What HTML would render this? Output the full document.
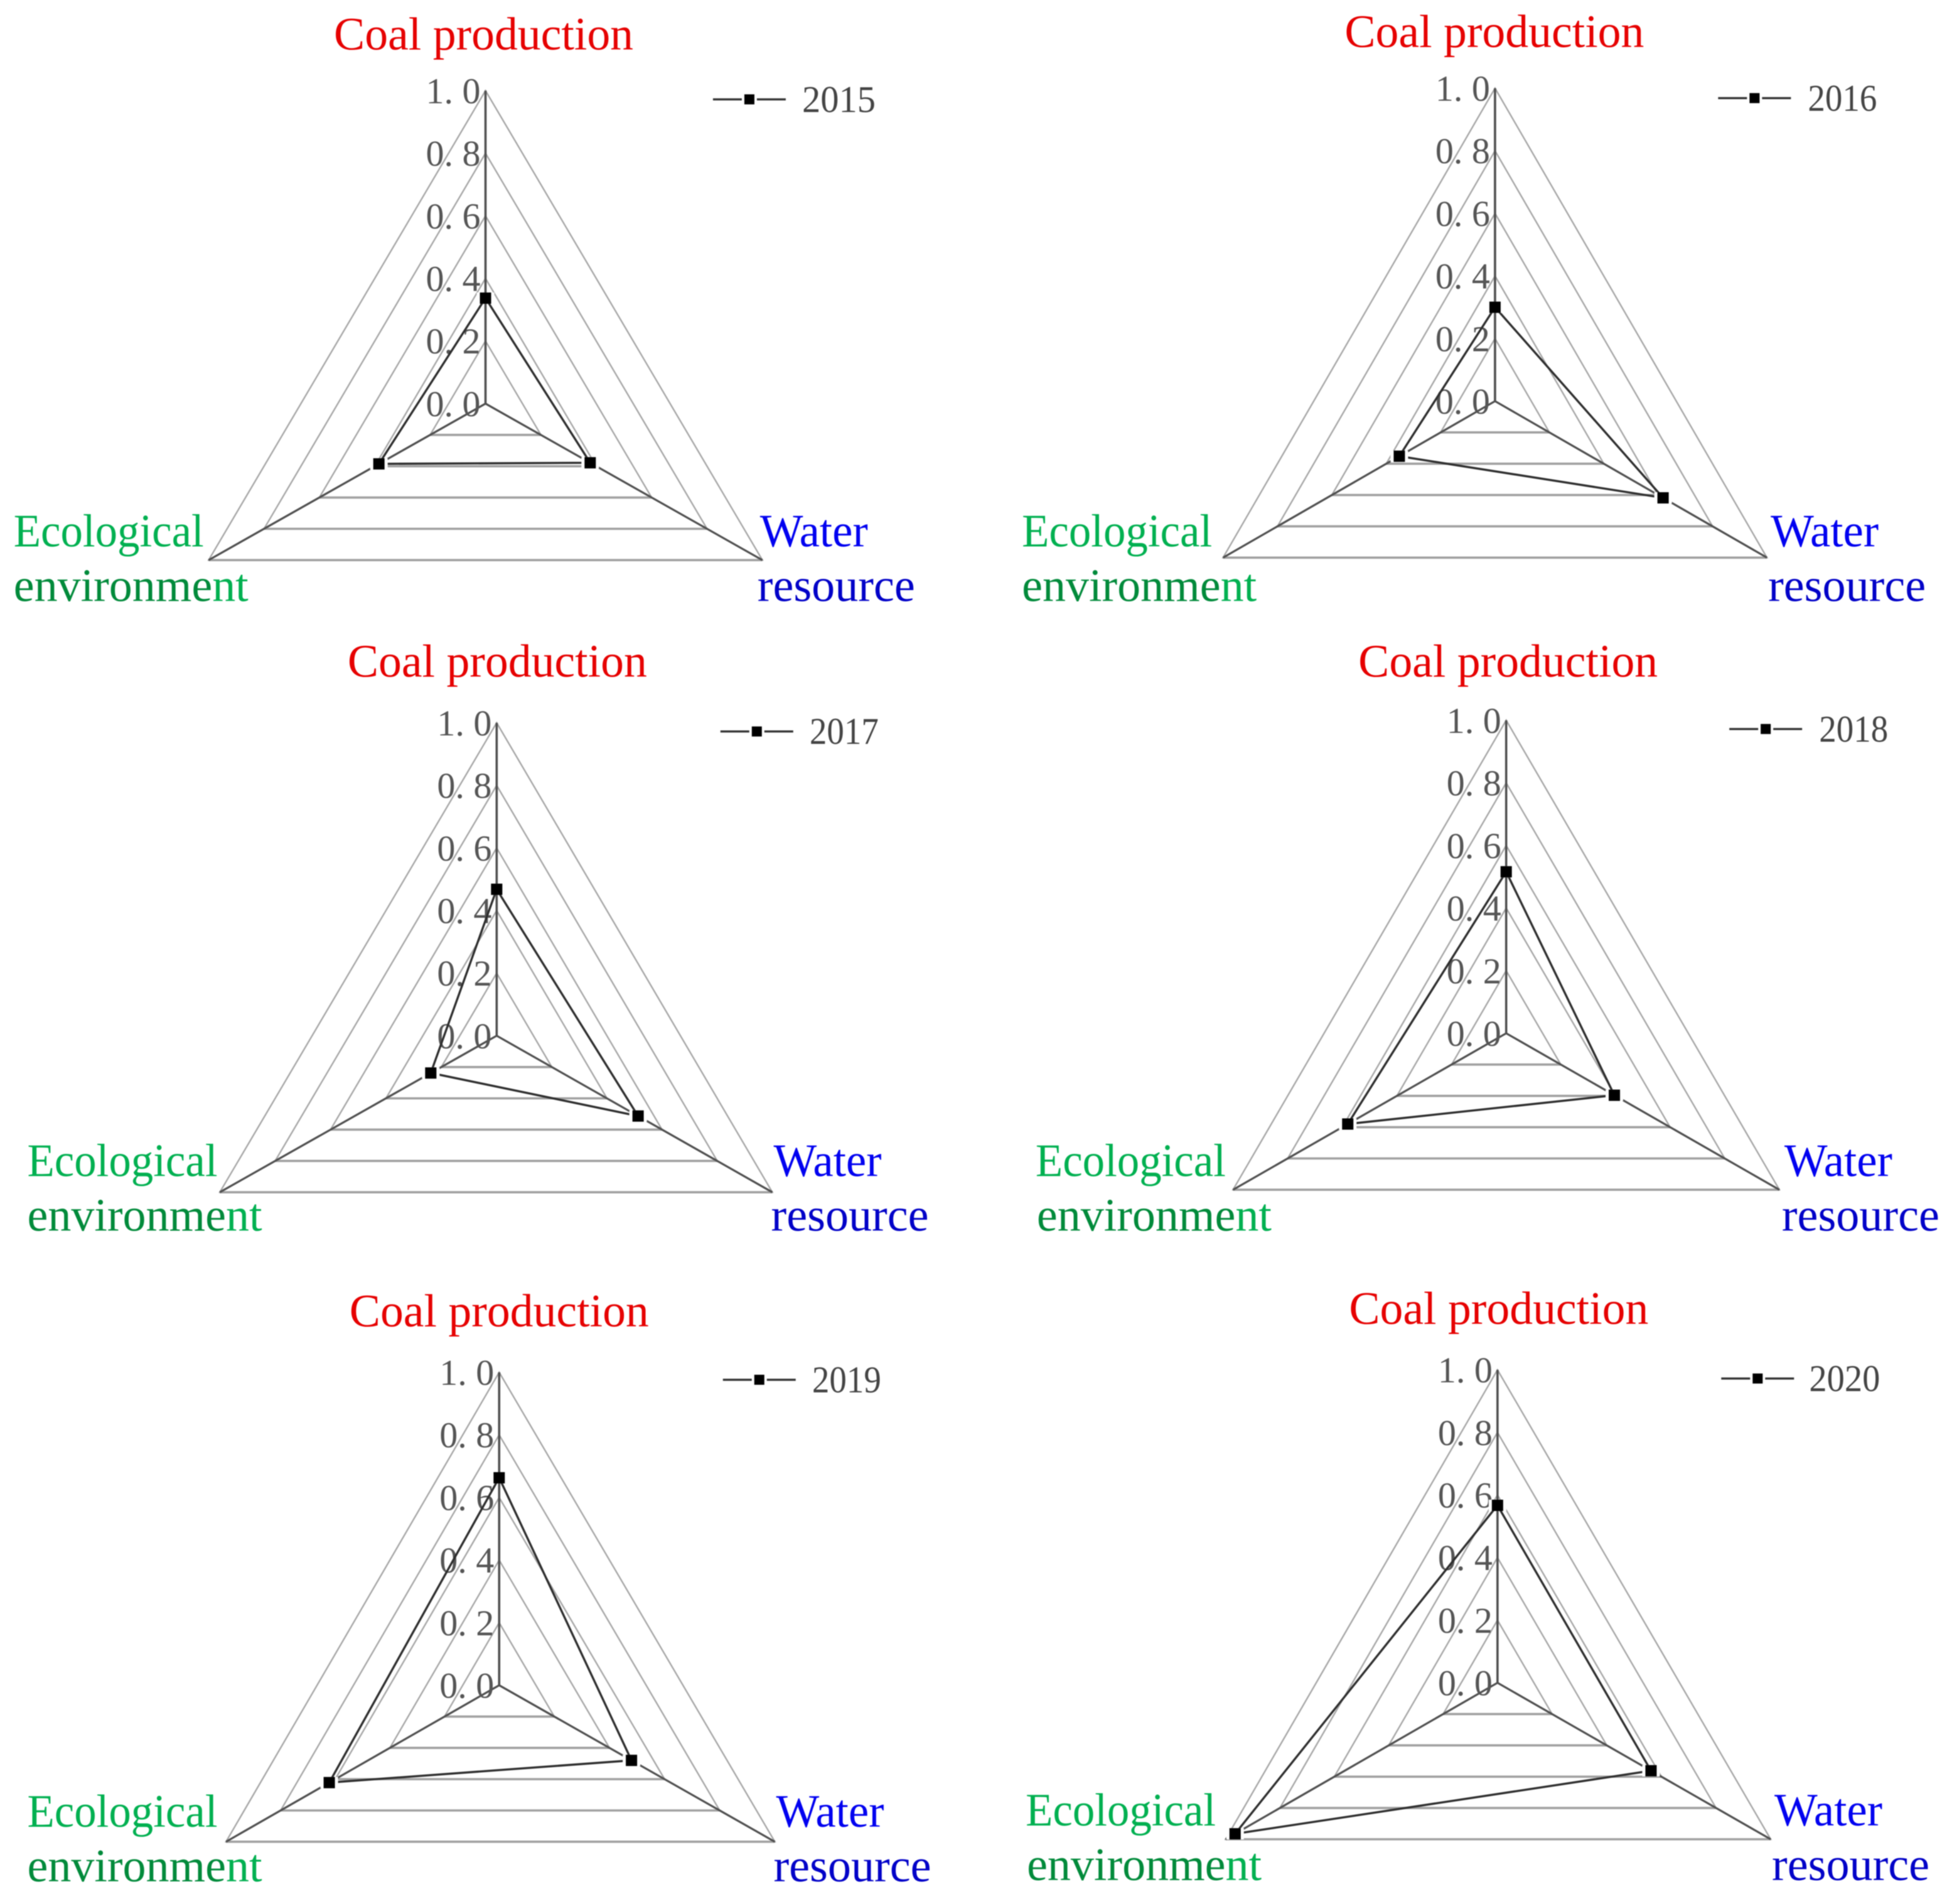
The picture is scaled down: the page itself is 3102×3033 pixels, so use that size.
<!DOCTYPE html>
<html lang="en">
<head>
<meta charset="utf-8">
<title>Radar charts 2015-2020</title>
<style>
html,body{margin:0;padding:0;background:#fff;width:3102px;height:3033px;overflow:hidden}
svg{display:block;filter:blur(.7px)}
text{font-family:"Liberation Serif","DejaVu Serif",serif}
</style>
</head>
<body>
<svg id="figure" xmlns="http://www.w3.org/2000/svg" width="3102" height="3033" viewBox="0 0 3102 3033"></svg>
<script>
// ---- data ----
const years = ["2015", "2016", "2017", "2018", "2019", "2020"];
const coalValues = [0.337, 0.30, 0.468, 0.516, 0.663, 0.567];
const waterValues = [0.378, 0.618, 0.513, 0.396, 0.48, 0.562];
const ecoValues = [0.385, 0.352, 0.238, 0.58, 0.622, 0.965];
const ringLevels = [0.2, 0.4, 0.6, 0.8, 1.0];
const tickValues = [0, 0.2, 0.4, 0.6, 0.8, 1.0];
const tickLabels = ["0. 0", "0. 2", "0. 4", "0. 6", "0. 8", "1. 0"];

// ---- layout (in 1568-wide reference units, scaled by S) ----
const S = 3102 / 1568;
const layouts = [
  {cx:391, top:73, cy:325, bot:451, L:168, R:614, mx:603.5, my:80, lt:646, lw:117, coal:[389.5,40], eco:[11,440], env:[11,484], wat:[612,440], res:[610,484]},
  {cx:1204, top:71, cy:323, bot:449, L:985, R:1423, mx:1413, my:79, lt:1456, lw:110, coal:[1203.5,38], eco:[823,440], env:[823,484], wat:[1426,440], res:[1424,484]},
  {cx:400, top:582, cy:834, bot:960, L:177, R:622, mx:609.5, my:589, lt:652, lw:110, coal:[400.5,545], eco:[22,947], env:[22,991], wat:[623,947], res:[621,991]},
  {cx:1213, top:580, cy:832, bot:958, L:993, R:1433, mx:1422, my:587, lt:1465, lw:110, coal:[1214.5,545], eco:[834,947], env:[835,991], wat:[1437,947], res:[1435,991]},
  {cx:402, top:1105, cy:1357, bot:1483, L:182, R:624, mx:611.5, my:1111, lt:654, lw:110, coal:[402,1068], eco:[22,1471], env:[22,1515], wat:[625,1471], res:[623,1515]},
  {cx:1206, top:1103, cy:1355, bot:1481, L:987, R:1426, mx:1415.5, my:1110, lt:1457, lw:113, coal:[1207,1066], eco:[826,1470], env:[827,1514], wat:[1429,1470], res:[1427,1514]}
];

const NS = "http://www.w3.org/2000/svg";
const root = document.getElementById("figure");

function mk(parent, tag, props) {
  const el = document.createElementNS(NS, tag);
  for (const k in props) el.setAttribute(k, props[k]);
  parent.appendChild(el);
  return el;
}

// axis functions: axis 0 = coal (up), 1 = water (lower right), 2 = ecological (lower left)
function axisX(l, axis, v) {
  if (axis === 0) return l.cx * S;
  if (axis === 1) return (l.cx + (l.R - l.cx) * v) * S;
  return (l.cx + (l.L - l.cx) * v) * S;
}
function axisY(l, axis, v) {
  if (axis === 0) return (l.cy + (l.top - l.cy) * v) * S;
  return (l.cy + (l.bot - l.cy) * v) * S;
}
function tri(l, a, b, c) {
  return [[0, a], [1, b], [2, c]].map(p => axisX(l, p[0], p[1]).toFixed(1) + "," + axisY(l, p[0], p[1]).toFixed(1)).join(" ");
}

function label(g, txt, pos, fill, width, anchor) {
  const t = mk(g, "text", {
    x: pos[0] * S, y: pos[1] * S, fill: fill, "font-size": 74,
    "text-anchor": anchor, textLength: width, lengthAdjust: "spacingAndGlyphs"
  });
  t.textContent = txt;
  return t;
}

years.forEach((year, i) => {
  const l = layouts[i];
  const g = mk(root, "g", {});
  
  

  // rings: thin slanted edges, heavier bottom edge
  ringLevels.forEach(level => {
    const ring = mk(g, "polygon", {
      points: tri(l, level, level, level), fill: "none",
      stroke: "#a6a6a6", "stroke-width": 2.4
    });
    
    
    const base = mk(g, "line", {
      x1: axisX(l, 2, level), y1: axisY(l, 2, level),
      x2: axisX(l, 1, level), y2: axisY(l, 1, level),
      stroke: "#a0a0a0", "stroke-width": 3.6
    });
    
    
  });

  // spokes
  [0, 1, 2].forEach(axis => {
    const spoke = mk(g, "line", {
      x1: axisX(l, axis, 0), y1: axisY(l, axis, 0),
      x2: axisX(l, axis, 1), y2: axisY(l, axis, 1),
      stroke: "#4f4f4f", "stroke-width": axis === 0 ? 3.6 : 3.2
    });
    
    
  });

  // tick labels
  tickValues.forEach((v, k) => {
    const t = mk(g, "text", {
      x: axisX(l, 0, v) - 8, y: axisY(l, 0, v) + 20,
      fill: "#555", "font-size": 58, "text-anchor": "end"
    });
    t.style.whiteSpace = "pre";
    t.textContent = tickLabels[k];
    
    
  });

  // series
  const vals = [coalValues[i], waterValues[i], ecoValues[i]];
  const line = mk(g, "polygon", {
    points: tri(l, vals[0], vals[1], vals[2]), fill: "none",
    stroke: "#2e2e2e", "stroke-width": 3.4
  });
  
  

  vals.forEach((v, axis) => {
    const halo = mk(g, "rect", {
      x: axisX(l, axis, v) - 14, y: axisY(l, axis, v) - 9,
      width: 28, height: 18, fill: "#fff"
    });
    
    
    const m = mk(g, "rect", {
      x: axisX(l, axis, v) - 9, y: axisY(l, axis, v) - 9,
      width: 18, height: 18, fill: "#000"
    });
    
    
  });

  // legend
  const lg = mk(g, "g", {});
  
  
  const lx = l.mx * S, ly = l.my * S;
  mk(lg, "line", {x1: lx - 58, y1: ly, x2: lx - 12, y2: ly, stroke: "#333", "stroke-width": 3.4});
  mk(lg, "line", {x1: lx + 12, y1: ly, x2: lx + 58, y2: ly, stroke: "#333", "stroke-width": 3.4});
  mk(lg, "rect", {x: lx - 8, y: ly - 8, width: 16, height: 16, fill: "#000"});
  const lt = mk(lg, "text", {x: l.lt * S, y: ly + 20, fill: "#444", "font-size": 60, textLength: l.lw, lengthAdjust: "spacingAndGlyphs"});
  lt.textContent = year;

  // axis labels
  const coal = label(g, "Coal production", l.coal, "#e60000", 477, "middle");
  
  
  const eco = label(g, "Ecological", l.eco, "#00b050", 303, "start");
  
  
  const env = label(g, "", l.env, "#008a3a", 374, "start");
  const envMain = mk(env, "tspan", {});
  envMain.textContent = "environme";
  const envEnd = mk(env, "tspan", {fill: "#00b050"});
  envEnd.textContent = "nt";
  
  
  const wat = label(g, "Water", l.wat, "#0000f0", 172, "start");
  
  
  const res = label(g, "resource", l.res, "#0000c8", 251, "start");
  
  
});
</script>
</body>
</html>
